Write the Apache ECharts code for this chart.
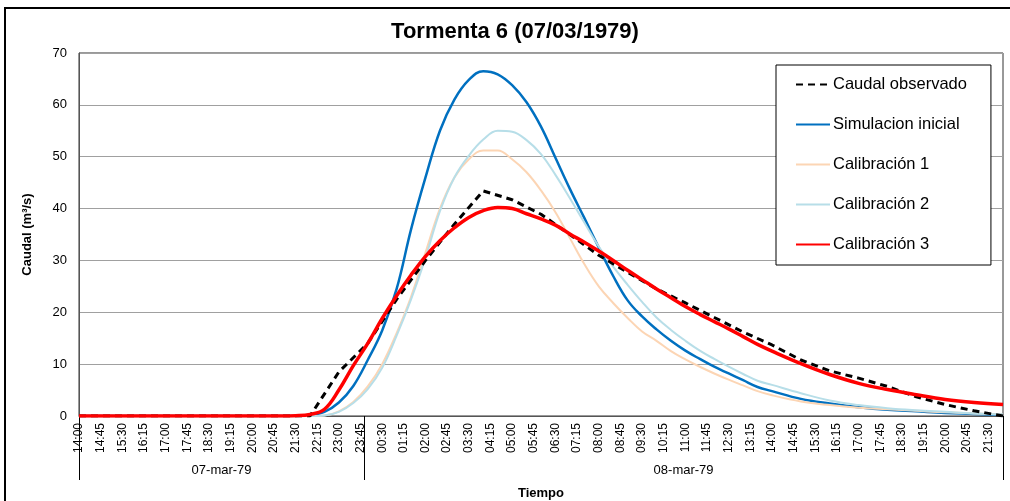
<!DOCTYPE html>
<html>
<head>
<meta charset="utf-8">
<script src="https://cdn.jsdelivr.net/npm/echarts@6/dist/echarts.min.js"></script>
<style>
html,body{margin:0;padding:0;background:#fff;}
#chart{width:1010px;height:501px;}
</style>
</head>
<body>
<div id="chart"></div>
<script>
// Category axis: 15-minute steps from 07-mar-79 14:00 to 08-mar-79 22:00 (keys carry the day)
const categories = [];
for (let m = 14 * 60; m <= (24 + 22) * 60; m += 15) {
  const day = m >= 24 * 60 ? '08' : '07';
  const mm = m % (24 * 60);
  const hh = String(Math.floor(mm / 60)).padStart(2, '0');
  const mi = String(mm % 60).padStart(2, '0');
  categories.push(day + ' ' + hh + ':' + mi);
}

const dayLabels = ['07-mar-79', '08-mar-79'];

// Simulated series sample times
const simTimes = [
  '07 14:00', '07 21:00', '07 21:30', '07 22:00', '07 22:30', '07 23:00', '07 23:30',
  '08 00:00', '08 00:30', '08 01:00', '08 01:30', '08 02:00', '08 02:30', '08 03:00', '08 03:30',
  '08 04:00', '08 04:30', '08 05:00', '08 05:30', '08 06:00', '08 06:30', '08 07:00', '08 07:30',
  '08 08:00', '08 08:30', '08 09:00', '08 09:30', '08 10:00', '08 10:30', '08 11:00', '08 11:30',
  '08 12:00', '08 12:30', '08 13:00', '08 13:30', '08 14:00',
  '08 15:00', '08 16:00', '08 17:00', '08 18:00', '08 19:00', '08 20:00', '08 21:00', '08 22:00'
];

const simulacionInicial = [
  0, 0, 0, 0.2, 0.8, 2.6, 5.8,
  10.8, 16.5, 24.5, 36, 46, 55, 61, 64.8,
  66.5, 65.9, 63.8, 60.5, 55.8, 49.8, 43.8, 38.2,
  32.5, 27, 22.3, 19.2, 16.7, 14.5, 12.6, 11,
  9.5, 8.2, 6.9, 5.6, 4.8,
  3.3, 2.4, 1.7, 1.2, 0.9, 0.6, 0.4, 0.2
];

const calibracion1 = [
  0, 0, 0, 0, 0.1, 0.9, 2.7,
  5.7, 10, 16, 23, 31.5, 40, 46, 49.5,
  51.2, 51.2, 49.5, 47, 43.5, 39.3, 34.3, 29.3,
  25, 21.8, 18.9, 16.3, 14.5, 12.5, 10.9, 9.5,
  8.2, 7, 5.9, 4.8, 4,
  2.8, 2.1, 1.6, 1.3, 1, 0.7, 0.5, 0.3
];

const calibracion2 = [
  0, 0, 0, 0, 0.1, 0.8, 2.5,
  5.2, 9.3, 15.5, 22.5, 30.5, 39.5, 46, 50.2,
  53.3, 55, 54.8, 53.2, 50.5, 46.5, 42, 37.3,
  32.7, 28.8, 25.3, 22, 19, 16.6, 14.5, 12.6,
  11, 9.5, 8.1, 6.8, 6,
  4.4, 3, 2.1, 1.5, 1.1, 0.8, 0.5, 0.3
];

const calibracion3 = [
  0, 0, 0.05, 0.3, 1.3, 5, 9.7,
  14, 18.8, 23.2, 27.2, 30.8, 33.8, 36.3, 38.3,
  39.6, 40.2, 40, 39, 38, 36.8, 35.1, 33.5,
  31.8, 30, 28.1, 26.3, 24.5, 22.8, 21.1, 19.6,
  18.2, 16.8, 15.3, 13.8, 12.5,
  10.1, 8, 6.3, 5.1, 4.1, 3.2, 2.6, 2.2
];

// Observed (hourly)
const obsTimes = [
  '07 14:00', '07 21:00', '07 22:00', '07 23:00',
  '08 00:00', '08 01:00', '08 02:00', '08 03:00', '08 04:00', '08 05:00', '08 06:00', '08 07:00',
  '08 08:00', '08 09:00', '08 10:00', '08 11:00', '08 12:00', '08 13:00', '08 14:00', '08 15:00',
  '08 16:00', '08 17:00', '08 18:00', '08 19:00', '08 20:00', '08 21:00', '08 22:00'
];
const caudalObservado = [
  0, 0, 0, 8.5,
  14, 22.5, 30, 37, 43.4, 41.7, 38.9, 35,
  31, 27.7, 24.5, 21.8, 19, 16.2, 13.7, 10.8,
  8.7, 7.3, 5.7, 3.7, 2.2, 1, 0
];

const yTicks = { min: 0, max: 70, interval: 10 };

function pairs(times, vals) { return times.map((t, i) => [t, vals[i]]); }

const FONT = "'Liberation Sans', Arial, sans-serif";
const chart = echarts.init(document.getElementById('chart'));
const lastIdx = categories.length - 1;
const midnightIdx = categories.indexOf('08 00:00') - 0.5;

chart.setOption({
  backgroundColor: '#ffffff',
  animation: false,
  title: {
    text: 'Tormenta 6 (07/03/1979)',
    left: 510, textAlign: 'center', top: 16,
    textStyle: { fontFamily: FONT, fontSize: 22, fontWeight: 'bold', color: '#000' }
  },
  graphic: [{
    type: 'rect', shape: { x: 5, y: 8, width: 1010, height: 500 },
    style: { fill: 'none', stroke: '#000', lineWidth: 2 }, silent: true, z: 100
  }],
  legend: {
    orient: 'vertical', left: 776, top: 65,
    data: ['Caudal observado', 'Simulacion inicial', 'Calibración 1', 'Calibración 2', 'Calibración 3'],
    backgroundColor: '#ffffff', borderColor: '#000', borderWidth: 1,
    padding: [11, 24, 12, 19], itemGap: 23, itemWidth: 34, itemHeight: 14,
    itemStyle: { opacity: 0 },
    textStyle: { fontFamily: FONT, fontSize: 16.5, color: '#000', padding: [0, 0, 0, -2] }
  },
  grid: {
    left: 79, right: 7, top: 53, bottom: 85,
    outerBoundsMode: 'none', containLabel: false,
    show: true, borderColor: '#333', borderWidth: 1, backgroundColor: '#fff'
  },
  xAxis: [{
    type: 'category', data: categories, boundaryGap: false,
    name: 'Tiempo', nameLocation: 'middle', nameGap: 71,
    nameTextStyle: { fontFamily: FONT, fontSize: 13, fontWeight: 'bold', color: '#000' },
    axisLine: { lineStyle: { color: '#555', width: 1 } },
    axisTick: { show: false },
    axisLabel: {
      interval: 2, rotate: 90, margin: 7, fontFamily: FONT, fontSize: 12, color: '#000',
      formatter: v => v.slice(3)
    },
    splitLine: { show: false }
  }, {
    type: 'value', min: 0, max: lastIdx, position: 'bottom', offset: 0,
    axisLine: { show: false }, splitLine: { show: false },
    axisTick: { show: true, customValues: [0, midnightIdx, lastIdx], length: 64, inside: false,
      lineStyle: { color: '#000', width: 1 } },
    axisLabel: {
      customValues: [midnightIdx / 2, (midnightIdx + lastIdx) / 2], margin: 48,
      fontFamily: FONT, fontSize: 13, color: '#000',
      formatter: v => (v < midnightIdx ? dayLabels[0] : dayLabels[1])
    }
  }],
  yAxis: {
    type: 'value', min: yTicks.min, max: yTicks.max, interval: yTicks.interval,
    name: 'Caudal (m³/s)', nameLocation: 'middle', nameGap: 45,
    nameTextStyle: { fontFamily: FONT, fontSize: 13, fontWeight: 'bold', color: '#000' },
    axisLine: { show: true, lineStyle: { color: '#555' } },
    axisTick: { show: false },
    axisLabel: { margin: 12, fontFamily: FONT, fontSize: 13, color: '#000' },
    splitLine: { lineStyle: { color: '#a0a0a0', width: 1 } }
  },
  series: [
    { name: 'Caudal observado', type: 'line', symbol: 'none', data: pairs(obsTimes, caudalObservado),
      itemStyle: { color: '#000' }, lineStyle: { color: '#000', width: 3, type: [7, 5] }, z: 3 },
    { name: 'Simulacion inicial', type: 'line', symbol: 'none', smooth: 0.4, data: pairs(simTimes, simulacionInicial),
      itemStyle: { color: '#0070C0' }, lineStyle: { color: '#0070C0', width: 2.5 }, z: 2 },
    { name: 'Calibración 1', type: 'line', symbol: 'none', smooth: 0.4, data: pairs(simTimes, calibracion1),
      itemStyle: { color: '#FCD5B4' }, lineStyle: { color: '#FCD5B4', width: 2 }, z: 2 },
    { name: 'Calibración 2', type: 'line', symbol: 'none', smooth: 0.4, data: pairs(simTimes, calibracion2),
      itemStyle: { color: '#B7DEE8' }, lineStyle: { color: '#B7DEE8', width: 2 }, z: 2 },
    { name: 'Calibración 3', type: 'line', symbol: 'none', smooth: 0.4, data: pairs(simTimes, calibracion3),
      itemStyle: { color: '#FF0000' }, lineStyle: { color: '#FF0000', width: 3.5 }, z: 4 }
  ]
});
</script>
</body>
</html>
